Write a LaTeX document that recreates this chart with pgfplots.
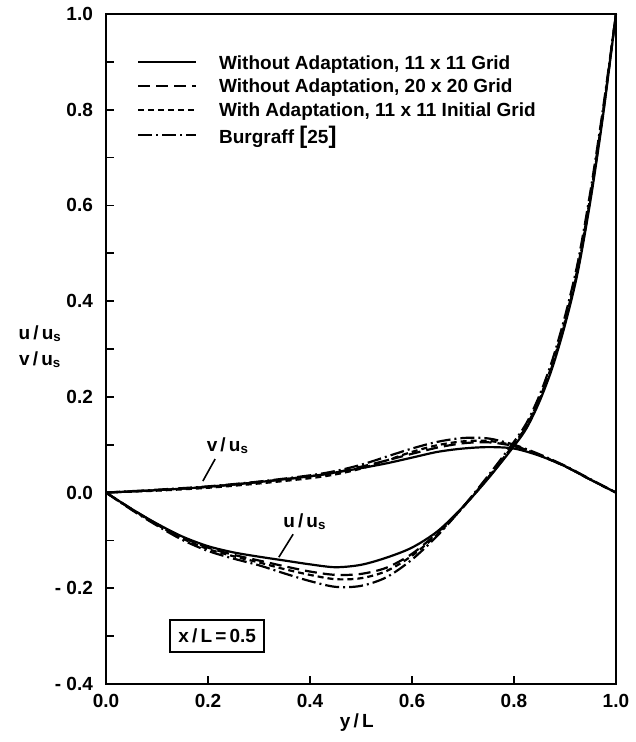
\documentclass[border=0pt]{standalone}
\usepackage{fontspec}
\setmainfont{Liberation Sans}
\usepackage{pgfplots}
\pgfplotsset{compat=1.18}

\begin{document}
\begin{tikzpicture}
\begin{axis}[
    scale only axis,
    width=255pt,height=335pt,
    xmin=0,xmax=1,ymin=-0.4,ymax=1.0,
    font=\fontsize{9.5}{11}\selectfont\bfseries,
    axis line style={line width=1.2pt},
    tick pos=left, tick align=inside,
    major tick length=4pt, minor tick length=4pt,
    every tick/.style={line width=0.9pt,black},
    xtick={0,0.2,0.4,0.6,0.8,1.0},
    xticklabels={0.0,0.2,0.4,0.6,0.8,1.0},
    ytick={-0.4,-0.2,0,0.2,0.4,0.6,0.8,1.0},
    yticklabels={- 0.4,- 0.2,0.0,0.2,0.4,0.6,0.8,1.0},
    minor ytick={-0.3,-0.1,0.1,0.3,0.5,0.7,0.9},
    xticklabel style={yshift=-1.5pt},
    yticklabel style={xshift=-3pt},
    clip=false,
    legend style={draw=none,fill=none,at={(0.060,0.942)},anchor=north west,
        inner sep=0pt,row sep=3pt,
        font=\fontsize{9.5}{11}\selectfont\bfseries,
        nodes={inner sep=1pt,text depth=0pt}},
    legend cell align=left,
    legend image code/.code={\draw[#1] (0pt,0pt) -- (29pt,0pt); \path (39pt,0pt);},
    every axis plot/.append style={black,line width=1.1pt,smooth},
]
% u/us, without adaptation 11x11
\addplot[solid] coordinates {
 (0,0) (0.05,-0.034) (0.1,-0.065) (0.15,-0.092) (0.2,-0.112) (0.25,-0.125)
 (0.3,-0.134) (0.35,-0.142) (0.4,-0.150) (0.45,-0.156) (0.5,-0.151)
 (0.55,-0.136) (0.6,-0.115) (0.65,-0.081) (0.7,-0.030) (0.75,0.030)
 (0.8,0.097) (0.825,0.135) (0.85,0.190) (0.875,0.260) (0.9,0.350)
 (0.925,0.460) (0.95,0.610) (0.975,0.790) (1.0,1.0)};
\addlegendentry{Without Adaptation, 11 x 11 Grid}
% u/us, without adaptation 20x20
\addplot[dash pattern=on 6pt off 3pt] coordinates {
 (0,0) (0.05,-0.034) (0.1,-0.066) (0.15,-0.094) (0.2,-0.115) (0.25,-0.130)
 (0.3,-0.142) (0.35,-0.154) (0.4,-0.165) (0.45,-0.172) (0.5,-0.170)
 (0.55,-0.157) (0.6,-0.128) (0.65,-0.084) (0.7,-0.030) (0.75,0.032)
 (0.8,0.100) (0.825,0.139) (0.85,0.194) (0.875,0.265) (0.9,0.355)
 (0.925,0.466) (0.95,0.616) (0.975,0.795) (1.0,1.0)};
\addlegendentry{Without Adaptation, 20 x 20 Grid}
% u/us, with adaptation
\addplot[dash pattern=on 3pt off 2pt] coordinates {
 (0,0) (0.05,-0.035) (0.1,-0.067) (0.15,-0.096) (0.2,-0.118) (0.25,-0.133)
 (0.3,-0.146) (0.35,-0.160) (0.4,-0.172) (0.45,-0.181) (0.5,-0.179)
 (0.55,-0.164) (0.6,-0.132) (0.65,-0.087) (0.7,-0.031) (0.75,0.032)
 (0.8,0.101) (0.825,0.140) (0.85,0.196) (0.875,0.268) (0.9,0.358)
 (0.925,0.470) (0.95,0.620) (0.975,0.798) (1.0,1.0)};
\addlegendentry{With Adaptation, 11 x 11 Initial Grid}
% u/us, Burgraff
\addplot[dash pattern=on 7pt off 2pt on 1pt off 2pt] coordinates {
 (0,0) (0.05,-0.036) (0.1,-0.069) (0.15,-0.099) (0.2,-0.122) (0.25,-0.138)
 (0.3,-0.152) (0.35,-0.169) (0.4,-0.185) (0.45,-0.197) (0.5,-0.195)
 (0.55,-0.177) (0.6,-0.140) (0.65,-0.090) (0.7,-0.030) (0.75,0.036)
 (0.8,0.106) (0.825,0.146) (0.85,0.203) (0.875,0.276) (0.9,0.368)
 (0.925,0.480) (0.95,0.630) (0.975,0.805) (1.0,1.0)};
\addlegendentry{Burgraff {\large[}25{\large]}}
% v/us curves
\addplot[solid,forget plot] coordinates {
 (0,0) (0.1,0.005) (0.2,0.012) (0.3,0.022) (0.4,0.034) (0.45,0.042)
 (0.5,0.051) (0.55,0.061) (0.6,0.073) (0.65,0.085) (0.7,0.092) (0.75,0.095)
 (0.8,0.092) (0.85,0.077) (0.9,0.055) (0.95,0.027) (1.0,0)};
\addplot[dash pattern=on 6pt off 3pt,forget plot] coordinates {
 (0,0) (0.1,0.005) (0.2,0.012) (0.3,0.022) (0.4,0.034) (0.45,0.042)
 (0.5,0.054) (0.55,0.067) (0.6,0.081) (0.65,0.094) (0.7,0.103) (0.75,0.105)
 (0.8,0.097) (0.85,0.078) (0.9,0.055) (0.95,0.027) (1.0,0)};
\addplot[dash pattern=on 3pt off 2pt,forget plot] coordinates {
 (0,0) (0.1,0.004) (0.2,0.010) (0.3,0.019) (0.4,0.030) (0.45,0.038)
 (0.5,0.050) (0.55,0.067) (0.6,0.085) (0.65,0.099) (0.7,0.107) (0.75,0.108)
 (0.8,0.098) (0.85,0.078) (0.9,0.055) (0.95,0.027) (1.0,0)};
\addplot[dash pattern=on 7pt off 2pt on 1pt off 2pt,forget plot] coordinates {
 (0,0) (0.1,0.006) (0.2,0.013) (0.3,0.023) (0.4,0.036) (0.45,0.045)
 (0.5,0.058) (0.55,0.075) (0.6,0.092) (0.65,0.106) (0.7,0.114) (0.75,0.113)
 (0.8,0.100) (0.85,0.080) (0.9,0.056) (0.95,0.028) (1.0,0)};
% annotations
\node at (axis cs:0.239,0.099) {v\,/\,u\textsubscript{s}};
\draw[line width=0.8pt] (axis cs:0.214,0.070) -- (axis cs:0.190,0.024);
\node at (axis cs:0.390,-0.061) {u\,/\,u\textsubscript{s}};
\draw[line width=0.8pt] (axis cs:0.367,-0.087) -- (axis cs:0.339,-0.135);
\node[draw,line width=1.1pt,inner xsep=4pt,inner ysep=4.5pt] at (axis cs:0.218,-0.300) {x\,/\,L\,=\,0.5};
\node[align=center] at (rel axis cs:-0.129,0.503) {u\,/\,u\textsubscript{s}\\[2pt]v\,/\,u\textsubscript{s}};
\node at (rel axis cs:0.492,-0.057) {y\,/\,L};
\path (rel axis cs:-0.2078,-0.0866) rectangle (rel axis cs:1.0216,1.0209);
\end{axis}
\end{tikzpicture}
\end{document}
